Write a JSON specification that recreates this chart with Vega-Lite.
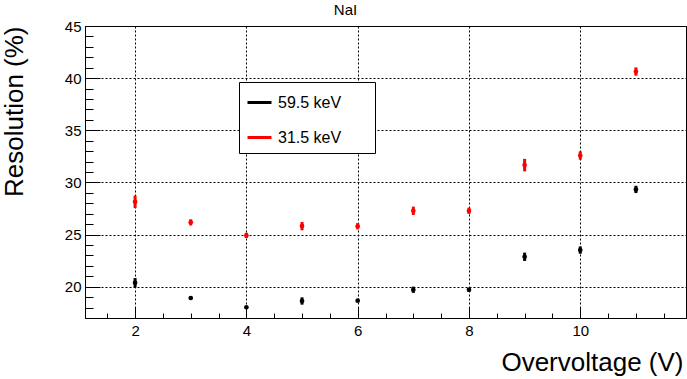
{
  "$schema": "https://vega.github.io/schema/vega-lite/v6.json",
  "width": 601,
  "height": 292,
  "autosize": {"type": "none"},
  "padding": {"left": 85, "top": 26, "right": 1, "bottom": 61},
  "background": "white",
  "title": {"text": "NaI", "fontSize": 15, "font": "Liberation Sans", "fontWeight": "normal", "color": "black", "anchor": "middle", "frame": "group", "offset": 9, "dx": -40, "dy": 20, "baseline": "alphabetic"},
  "config": {"view": {"stroke": "black", "strokeWidth": 1}, "font": "Liberation Sans"},
  "data": {"values": [
    {"V": 2, "res": 28.14, "err": 0.6, "series": "31.5 keV"},
    {"V": 3, "res": 26.17, "err": 0.3, "series": "31.5 keV"},
    {"V": 4, "res": 24.92, "err": 0.25, "series": "31.5 keV"},
    {"V": 5, "res": 25.81, "err": 0.4, "series": "31.5 keV"},
    {"V": 6, "res": 25.8, "err": 0.3, "series": "31.5 keV"},
    {"V": 7, "res": 27.28, "err": 0.4, "series": "31.5 keV"},
    {"V": 8, "res": 27.28, "err": 0.3, "series": "31.5 keV"},
    {"V": 9, "res": 31.66, "err": 0.6, "series": "31.5 keV"},
    {"V": 10, "res": 32.58, "err": 0.4, "series": "31.5 keV"},
    {"V": 11, "res": 40.63, "err": 0.4, "series": "31.5 keV"},
    {"V": 2, "res": 20.38, "err": 0.45, "series": "59.5 keV"},
    {"V": 3, "res": 18.92, "err": 0.12, "series": "59.5 keV"},
    {"V": 4, "res": 18.03, "err": 0.12, "series": "59.5 keV"},
    {"V": 5, "res": 18.63, "err": 0.35, "series": "59.5 keV"},
    {"V": 6, "res": 18.66, "err": 0.12, "series": "59.5 keV"},
    {"V": 7, "res": 19.71, "err": 0.3, "series": "59.5 keV"},
    {"V": 8, "res": 19.71, "err": 0.2, "series": "59.5 keV"},
    {"V": 9, "res": 22.87, "err": 0.4, "series": "59.5 keV"},
    {"V": 10, "res": 23.51, "err": 0.35, "series": "59.5 keV"},
    {"V": 11, "res": 29.33, "err": 0.35, "series": "59.5 keV"}
  ]},
  "layer": [
    {
      "mark": {"type": "errorbar", "thickness": 3},
      "encoding": {
        "x": {"field": "V", "type": "quantitative",
          "scale": {"domain": [1.1, 11.9], "nice": false, "zero": false},
          "axis": {"orient": "bottom", "values": [2, 4, 6, 8, 10], "title": "Overvoltage (V)",
            "grid": true, "gridDash": [2, 2], "gridColor": "black", "gridOpacity": 1,
            "tickSize": -11, "tickColor": "black", "domainColor": "black",
            "labelFontSize": 15, "labelColor": "black", "labelPadding": 16, "labelFlush": false,
            "titleFontSize": 26, "titleFontWeight": "normal", "titleColor": "black",
            "titleAlign": "right", "titleX": 598, "titleY": 52, "titleBaseline": "alphabetic"}},
        "y": {"field": "res", "type": "quantitative",
          "scale": {"domain": [17, 45], "nice": false, "zero": false},
          "axis": {"orient": "left", "values": [20, 25, 30, 35, 40, 45], "title": "Resolution (%)",
            "grid": true, "gridDash": [2, 2], "gridColor": "black", "gridOpacity": 1,
            "tickSize": -15, "tickColor": "black", "domainColor": "black",
            "labelFontSize": 15, "labelColor": "black", "labelPadding": 19, "labelFlush": false,
            "titleFontSize": 26, "titleFontWeight": "normal", "titleColor": "black",
            "titleAngle": -90, "titleAlign": "right", "titleBaseline": "alphabetic", "titleX": -63, "titleY": 0}},
        "yError": {"field": "err"},
        "color": {"field": "series", "type": "nominal",
          "scale": {"domain": ["59.5 keV", "31.5 keV"], "range": ["black", "red"]},
          "legend": {"orient": "none", "legendX": 154, "legendY": 56, "title": null,
            "symbolType": "stroke", "symbolStrokeWidth": 3, "symbolSize": 576,
            "labelFontSize": 16, "labelFont": "Liberation Sans", "labelColor": "black", "labelOffset": 5,
            "strokeColor": "black", "fillColor": "white", "padding": 7, "rowPadding": 13,
            "labelExpr": "datum.label + '      \u200b'"}}
      }
    },
    {
      "mark": {"type": "circle", "size": 22, "opacity": 1},
      "encoding": {
        "x": {"field": "V", "type": "quantitative",
          "axis": {"orient": "bottom", "values": [1.5, 2, 2.5, 3, 3.5, 4, 4.5, 5, 5.5, 6, 6.5, 7, 7.5, 8, 8.5, 9, 9.5, 10, 10.5, 11, 11.5],
            "labels": false, "domain": false, "grid": false, "title": null, "tickSize": -5, "tickColor": "black"}},
        "y": {"field": "res", "type": "quantitative",
          "axis": {"orient": "left", "values": [18, 19, 20, 21, 22, 23, 24, 25, 26, 27, 28, 29, 30, 31, 32, 33, 34, 35, 36, 37, 38, 39, 40, 41, 42, 43, 44],
            "labels": false, "domain": false, "grid": false, "title": null, "tickSize": -8, "tickColor": "black"}},
        "color": {"field": "series", "type": "nominal", "legend": null}
      }
    }
  ],
  "resolve": {"axis": {"x": "independent", "y": "independent"}}
}
